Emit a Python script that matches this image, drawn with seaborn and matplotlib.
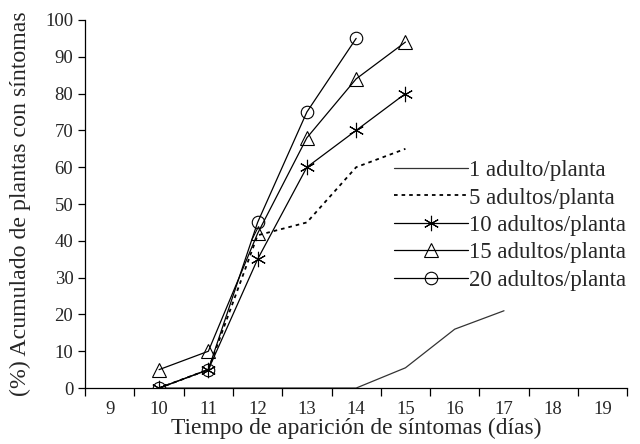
import numpy as np
import pandas as pd
import seaborn as sns
import matplotlib
matplotlib.use("Agg")
import matplotlib.pyplot as plt
from matplotlib.ticker import FixedLocator

sns.set_style("white")
plt.rcParams['font.family'] = ['Liberation Serif', 'DejaVu Serif']

dias_1 = [10, 11, 12, 13, 14, 15, 16, 17]
val_1 = [0, 0, 0, 0, 0, 5.5, 16, 21]
dias = [10, 11, 12, 13, 14, 15]
val_5 = [0, 5, 41.5, 45, 60, 65]
val_10 = [0, 5, 35, 60, 70, 80]
val_15 = [5, 10, 42, 68, 84, 94]
dias_20 = [10, 11, 12, 13, 14]
val_20 = [0, 5, 45, 75, 95]
labels = ["1 adulto/planta", "5 adultos/planta", "10 adultos/planta",
          "15 adultos/planta", "20 adultos/planta"]
x_ticks = list(range(9, 20))
y_ticks = list(range(0, 101, 10))

fig, ax = plt.subplots(figsize=(6.4, 4.44), dpi=100)
fig.subplots_adjust(left=0.133, right=0.98, bottom=0.126, top=0.955)

lw = 0.9
mk = dict(color='black', lw=lw, markeredgecolor='black', markeredgewidth=0.8, fillstyle='none')
sns.lineplot(x=dias_1, y=val_1, ax=ax, color='#333333', lw=lw, label=labels[0])
sns.lineplot(x=dias, y=val_5, ax=ax, color='black', lw=1.3, linestyle=(0, (2, 2.2)), label=labels[1])
sns.lineplot(x=dias, y=val_10, ax=ax, marker=(6, 2, 0), markersize=11, label=labels[2], **mk)
sns.lineplot(x=dias, y=val_15, ax=ax, marker='^', markersize=9.5, label=labels[3], **mk)
sns.lineplot(x=dias_20, y=val_20, ax=ax, marker='o', markersize=9, label=labels[4], **mk)

ax.set_xlim(8.5, 19.5)
ax.set_ylim(0, 100)
ax.set_xticks(x_ticks)
ax.set_xticklabels([str(t) for t in x_ticks])
ax.xaxis.set_minor_locator(FixedLocator(np.arange(8.5, 19.6, 1)))
ax.tick_params(axis='x', which='major', length=0, labelsize=13.5, pad=9)
ax.tick_params(axis='x', which='minor', length=6, width=0.9, direction='out', bottom=True, color='black')
ax.set_yticks(y_ticks)
ax.tick_params(axis='y', which='major', length=5, width=0.9, direction='out', left=True, labelsize=13.5, color='black')

for s in ['top', 'right']:
    ax.spines[s].set_visible(False)
for s in ['left', 'bottom']:
    ax.spines[s].set_color('black')
    ax.spines[s].set_linewidth(0.9)

ax.set_xlabel("Tiempo de aparición de síntomas (días)", fontsize=16.9, labelpad=0)
ax.set_ylabel("(%) Acumulado de plantas con síntomas", fontsize=17.2, labelpad=4)
ax.yaxis.set_label_coords(-0.1, 0.5)

leg = ax.legend(loc='upper left', bbox_to_anchor=(0.562, 0.632), frameon=False, fontsize=16.5,
                handlelength=3.2, handletextpad=0.05, labelspacing=0.28, borderaxespad=0,
                borderpad=0.2)

fig.savefig("out.png", dpi=100)
